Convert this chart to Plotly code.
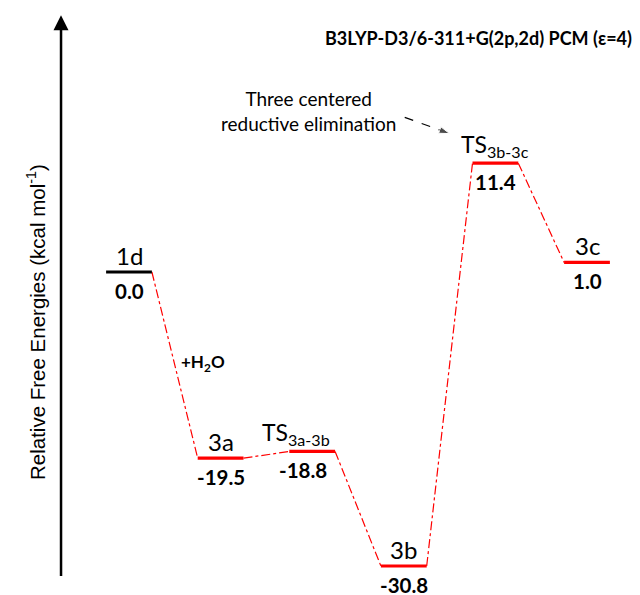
import plotly.graph_objects as go

# ---- data ----
states = ["1d", "3a", "TS3a-3b", "3b", "TS3b-3c", "3c"]
state_labels = ["1d", "3a", "TS<sub>3a-3b</sub>", "3b", "TS<sub>3b-3c</sub>", "3c"]
energies = [0.0, -19.5, -18.8, -30.8, 11.4, 1.0]
energy_text = ["0.0", "-19.5", "-18.8", "-30.8", "11.4", "1.0"]
level_colors = ["black", "red", "red", "red", "red", "red"]
title_text = "B3LYP-D3/6-311+G(2p,2d) PCM (ε=4)"
yaxis_title = "Relative Free Energies (kcal mol<sup>-1</sup>)"
note_text = "Three centered<br>reductive elimination"
step_text = "+H<sub>2</sub>O"

HALF = 0.25  # half width of a level, in stage units
pos = list(range(len(states)))

fig = go.Figure()

# connectors
for i in range(len(states) - 1):
    fig.add_trace(go.Scatter(
        x=[pos[i] + HALF, pos[i + 1] - HALF],
        y=[energies[i], energies[i + 1]],
        mode="lines",
        line=dict(color="red", width=1.2, dash="dashdot"),
        hoverinfo="skip", showlegend=False))

# levels
for i, s in enumerate(states):
    fig.add_trace(go.Scatter(
        x=[pos[i] - HALF, pos[i] + HALF],
        y=[energies[i], energies[i]],
        mode="lines",
        line=dict(color=level_colors[i], width=3.2),
        name=s, showlegend=False))

FAM = "Lato, Open Sans, sans-serif"
val_font = dict(family=FAM, size=20.5, color="black")

label_xshift = [0, 0, -16, 0, 0, 0]
label_size = [24, 24, 23, 24, 23, 24]
for i in range(len(states)):
    fig.add_annotation(x=pos[i], y=energies[i], text=state_labels[i],
                       showarrow=False, yanchor="bottom", yshift=0,
                       xshift=label_xshift[i],
                       font=dict(family=FAM, size=label_size[i], color="black"))
    fig.add_annotation(x=pos[i], y=energies[i], text="<b>%s</b>" % energy_text[i],
                       showarrow=False, yanchor="top", yshift=-5,
                       xshift=-9 if i == 2 else 0, font=val_font)

# +H2O
fig.add_annotation(x=0.81, y=-9.5, text="<b>%s</b>" % step_text, showarrow=False,
                   font=dict(family=FAM, size=17, color="black"))

# note + dashed arrow
fig.add_annotation(x=1.955, y=16.9, text=note_text, showarrow=False, align="center",
                   font=dict(family=FAM, size=19, color="black"))
fig.add_trace(go.Scatter(
    x=[3.01, 3.50], y=[16.2, 14.5], mode="lines+markers",
    line=dict(color="black", width=1.2, dash="dash"),
    marker=dict(symbol=["circle", "arrow"], size=[0, 11], angleref="previous", color="black"),
    hoverinfo="skip", showlegend=False))

# vertical axis arrow
fig.add_annotation(x=-0.742, y=26.9, ax=-0.742, ay=-32.0, xref="x", yref="y",
                   axref="x", ayref="y", showarrow=True, arrowhead=2, arrowsize=1.2,
                   arrowwidth=2.5, arrowcolor="black", text="")

# axis title
fig.add_annotation(xref="paper", yref="paper", x=21 / 640, y=1 - 322 / 595,
                   text=yaxis_title, textangle=-90, showarrow=False,
                   font=dict(family="Liberation Sans, Arial, sans-serif", size=20.5, color="black"))

# title
fig.add_annotation(xref="paper", yref="paper", x=634 / 640, y=1 - 25 / 595,
                   xanchor="right", text="<b>%s</b>" % title_text, showarrow=False,
                   font=dict(family=FAM, size=18, color="black"))

x0 = -129 / 91.6
x1 = (640 - 129) / 91.6
y1 = 272 / 9.545
y0 = -(595 - 272) / 9.545

fig.update_layout(
    width=640, height=595,
    margin=dict(l=0, r=0, t=0, b=0),
    paper_bgcolor="white", plot_bgcolor="white",
    xaxis=dict(range=[x0, x1], visible=False, fixedrange=True),
    yaxis=dict(range=[y0, y1], visible=False, fixedrange=True),
)

fig.write_html("out.html", config={"displayModeBar": False},
               post_script="document.body.style.margin='0';document.body.style.padding='0';"
                           "document.body.style.overflow='hidden';")
